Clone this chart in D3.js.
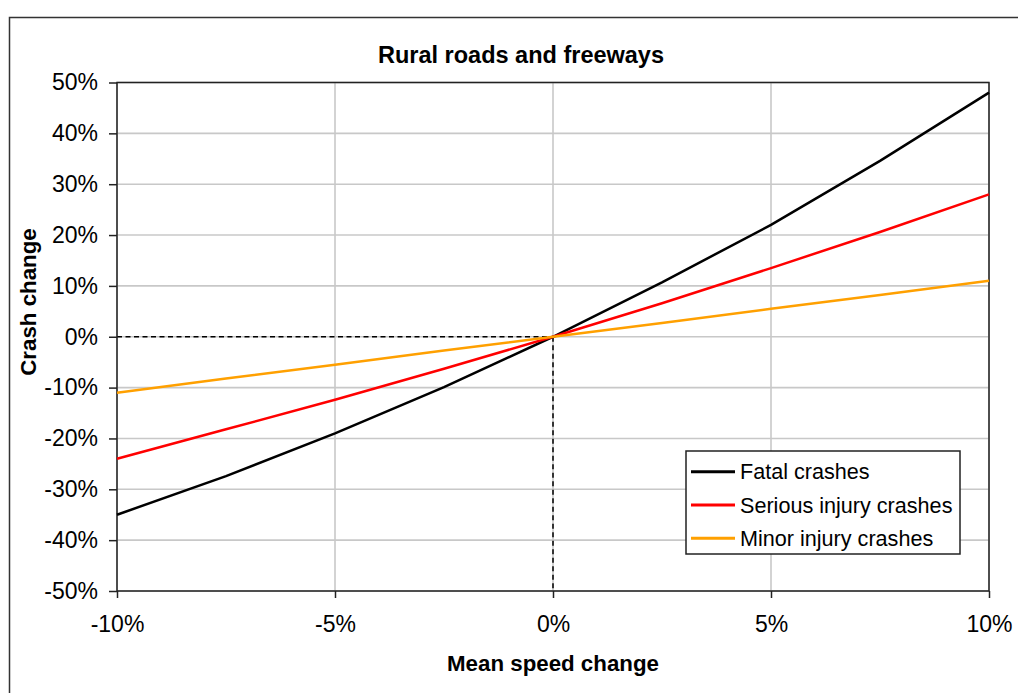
<!DOCTYPE html>
<html>
<head>
<meta charset="utf-8">
<script src="https://cdn.jsdelivr.net/npm/d3@7"></script>
<style>
  body { margin: 0; background: #fff; }
  svg text { font-family: 'Liberation Sans', Arial, sans-serif; fill: #000; }
</style>
</head>
<body>
<div id="svg-container"></div>
<script>
// mean speed change (%)
const speedChange = [-10, -7.5, -5, -2.5, 0, 2.5, 5, 7.5, 10]
const fatalCrashes = [-35, -27.4, -19, -9.9, 0, 10.7, 22, 34.6, 48]
const seriousCrashes = [-24, -18.2, -12.4, -6.3, 0, 6.6, 13.5, 20.6, 28]
const minorCrashes = [-11, -8.2, -5.5, -2.7, 0, 2.7, 5.5, 8.2, 11]

const seriesNames = ['Fatal crashes', 'Serious injury crashes', 'Minor injury crashes']
const seriesColors = ['#000000', '#ff0000', '#ffa000']
const seriesValues = [fatalCrashes, seriousCrashes, minorCrashes]

const xTicks = [-10, -5, 0, 5, 10]
const yTicks = [-50, -40, -30, -20, -10, 0, 10, 20, 30, 40, 50]

const svgWidth = 1018
const svgHeight = 693
const marginLeft = 117
const marginTop = 82.5
const width = 989 - marginLeft
const height = 591 - marginTop

const svg = d3
  .select('#svg-container')
  .append('svg')
  .attr('width', svgWidth)
  .attr('height', svgHeight)

// outer chart frame (runs off the page on right and bottom)
svg
  .append('rect')
  .attr('x', 9.5)
  .attr('y', 17.5)
  .attr('width', 1040)
  .attr('height', 720)
  .attr('fill', 'none')
  .attr('stroke', '#333')
  .attr('stroke-width', 1.5)

svg
  .append('text')
  .attr('x', 521)
  .attr('y', 62.5)
  .attr('text-anchor', 'middle')
  .style('font-size', '23.5px')
  .style('font-weight', 700)
  .text('Rural roads and freeways')

const coreChart = svg
  .append('g')
  .attr('transform', `translate(${marginLeft}, ${marginTop})`)

const xScale = d3.scaleLinear().domain([-10, 10]).range([0, width])
const yScale = d3.scaleLinear().domain([-50, 50]).range([height, 0])

// gridlines
coreChart
  .append('g')
  .selectAll('line')
  .data(yTicks)
  .join('line')
  .attr('x1', 0)
  .attr('x2', width)
  .attr('y1', d => yScale(d))
  .attr('y2', d => yScale(d))
  .attr('stroke', '#c8c8c8')
  .attr('stroke-width', 1.6)

coreChart
  .append('g')
  .selectAll('line')
  .data(xTicks)
  .join('line')
  .attr('x1', d => xScale(d))
  .attr('x2', d => xScale(d))
  .attr('y1', 0)
  .attr('y2', height)
  .attr('stroke', '#c8c8c8')
  .attr('stroke-width', 1.6)

// dashed reference lines at 0
coreChart
  .append('line')
  .attr('x1', 0)
  .attr('x2', xScale(0))
  .attr('y1', yScale(0))
  .attr('y2', yScale(0))
  .attr('stroke', '#000')
  .attr('stroke-width', 1.5)
  .attr('stroke-dasharray', '5,3.5')
coreChart
  .append('line')
  .attr('x1', xScale(0))
  .attr('x2', xScale(0))
  .attr('y1', yScale(0))
  .attr('y2', height)
  .attr('stroke', '#000')
  .attr('stroke-width', 1.5)
  .attr('stroke-dasharray', '5,3.5')

// plot frame
coreChart
  .append('rect')
  .attr('width', width)
  .attr('height', height)
  .attr('fill', 'none')
  .attr('stroke', '#222')
  .attr('stroke-width', 1.5)

// axes
const xAxis = coreChart
  .append('g')
  .attr('transform', `translate(0, ${height})`)
  .call(
    d3
      .axisBottom(xScale)
      .tickValues(xTicks)
      .tickSize(7)
      .tickPadding(18)
      .tickFormat(d => `${d}%`),
  )
xAxis.select('.domain').remove()
xAxis.selectAll('.tick line').attr('stroke', '#222').attr('stroke-width', 1.5)
xAxis.selectAll('text').style('font-size', '23px')

const yAxis = coreChart
  .append('g')
  .call(
    d3
      .axisLeft(yScale)
      .tickValues(yTicks)
      .tickSize(8)
      .tickPadding(11)
      .tickFormat(d => `${d}%`),
  )
yAxis.select('.domain').remove()
yAxis.selectAll('.tick line').attr('stroke', '#222').attr('stroke-width', 1.5)
yAxis.selectAll('text').style('font-size', '23px')

svg
  .append('text')
  .attr('x', 553)
  .attr('y', 671)
  .attr('text-anchor', 'middle')
  .style('font-size', '22.3px')
  .style('font-weight', 700)
  .text('Mean speed change')

svg
  .append('text')
  .attr('transform', 'translate(36, 302) rotate(-90)')
  .attr('text-anchor', 'middle')
  .style('font-size', '22.3px')
  .style('font-weight', 700)
  .text('Crash change')

// series lines
const line = d3
  .line()
  .x((d, i) => xScale(speedChange[i]))
  .y(d => yScale(d))

coreChart
  .append('g')
  .selectAll('path')
  .data(seriesValues)
  .join('path')
  .attr('d', d => line(d))
  .attr('fill', 'none')
  .attr('stroke', (d, i) => seriesColors[i])
  .attr('stroke-width', 2.5)

// legend
const legend = svg.append('g').attr('transform', 'translate(686, 451)')
legend
  .append('rect')
  .attr('width', 274)
  .attr('height', 103)
  .attr('fill', '#fff')
  .attr('stroke', '#222')
  .attr('stroke-width', 1.5)

const legendItem = legend
  .selectAll('.legend-item')
  .data(seriesNames)
  .join('g')
  .attr('class', 'legend-item')
  .attr('transform', (d, i) => `translate(0, ${20.7 + i * 33.3})`)
legendItem
  .append('line')
  .attr('x1', 5)
  .attr('x2', 49)
  .attr('stroke', (d, i) => seriesColors[i])
  .attr('stroke-width', 3)
legendItem
  .append('text')
  .attr('x', 54)
  .attr('dy', '0.35em')
  .style('font-size', '21.6px')
  .text(d => d)
</script>
</body>
</html>
